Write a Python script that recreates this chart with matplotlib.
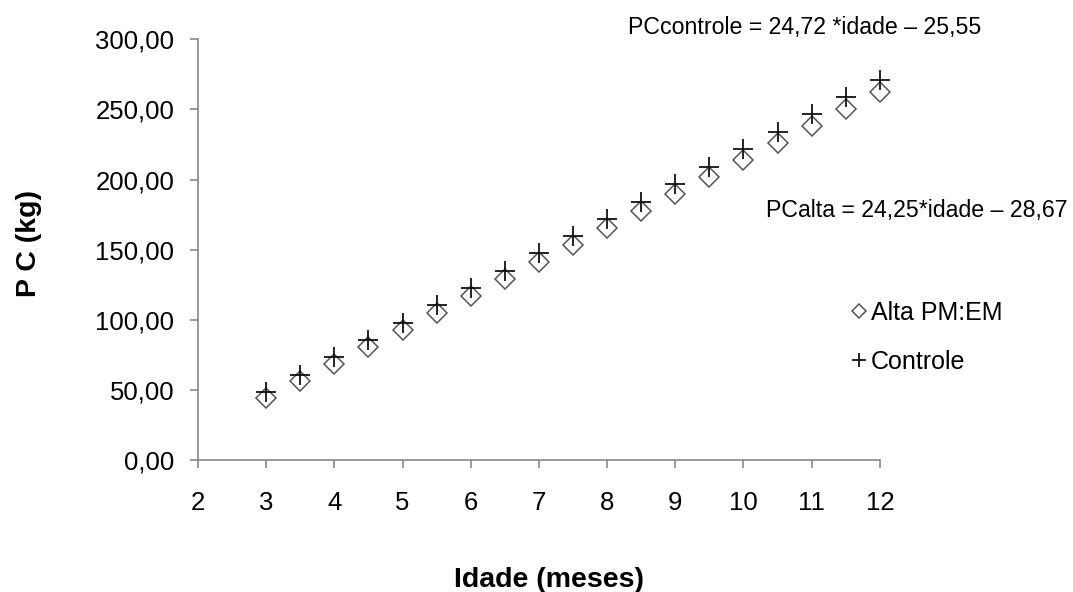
import matplotlib
matplotlib.use("Agg")
import matplotlib.pyplot as plt
from matplotlib.ticker import FuncFormatter, MultipleLocator

plt.rcParams['font.family'] = ['Liberation Sans', 'DejaVu Sans']

# idade em meses
idade = [3, 3.5, 4, 4.5, 5, 5.5, 6, 6.5, 7, 7.5, 8, 8.5, 9, 9.5, 10, 10.5, 11, 11.5, 12]
# peso corporal (kg)
pc_alta = [44.1, 56.2, 68.4, 80.5, 92.6, 104.8, 116.9, 129.0, 141.2, 153.0,
           165.4, 177.6, 189.5, 201.8, 213.8, 226.0, 238.1, 250.3, 262.4]
pc_controle = [48.5, 60.9, 73.3, 85.6, 98.0, 110.3, 122.7, 135.1, 147.5, 159.9,
               172.0, 184.3, 196.8, 209.2, 221.5, 234.0, 246.5, 258.8, 271.2]

eq_controle = "PCcontrole = 24,72 *idade \u2013 25,55"
eq_alta = "PCalta = 24,25*idade \u2013 28,67"

fig = plt.figure(figsize=(10.73, 5.92), dpi=100)
ax = fig.add_axes([0.1845, 0.223, 0.6355, 0.7106])

ax.plot(idade, pc_alta, linestyle='none', marker='D', ms=10, mfc='none',
        mec='#555555', mew=1.1, label='Alta PM:EM', clip_on=False)
ax.plot(idade, pc_controle, linestyle='none', marker='+', ms=14,
        color='#111111', mew=1.3, label='Controle', clip_on=False)

ax.set_xlim(2, 12)
ax.set_ylim(0, 300)
ax.xaxis.set_major_locator(MultipleLocator(1))
ax.yaxis.set_major_locator(MultipleLocator(50))
ax.yaxis.set_major_formatter(FuncFormatter(lambda v, p: f"{v:.2f}".replace('.', ',')))

for s in ['top', 'right']:
    ax.spines[s].set_visible(False)
for s in ['left', 'bottom']:
    ax.spines[s].set_color('#888888')
    ax.spines[s].set_linewidth(1.2)
ax.tick_params(axis='both', direction='out', length=6, width=1.2, color='#888888',
               labelsize=18.5, labelcolor='black')
ax.tick_params(axis='x', pad=16)
ax.tick_params(axis='y', pad=11)

ax.set_xlabel('Idade (meses)', fontsize=20.5, fontweight='bold')
ax.set_ylabel('P C (kg)', fontsize=20.5, fontweight='bold')
ax.xaxis.set_label_coords(0.515, -0.254)
ax.yaxis.set_label_coords(-0.229, 0.515)

ax.legend(loc='center left', bbox_to_anchor=(0.958, 0.291), frameon=False,
          fontsize=18, markerscale=0.7, handlelength=0.6, handletextpad=0.2,
          labelspacing=1.0, borderaxespad=0, borderpad=0)

fig.text(0.585, 0.953, eq_controle, fontsize=16.7, va='center', ha='left')
fig.text(0.714, 0.645, eq_alta, fontsize=16.7, va='center', ha='left')

fig.savefig('out.png', dpi=100)
